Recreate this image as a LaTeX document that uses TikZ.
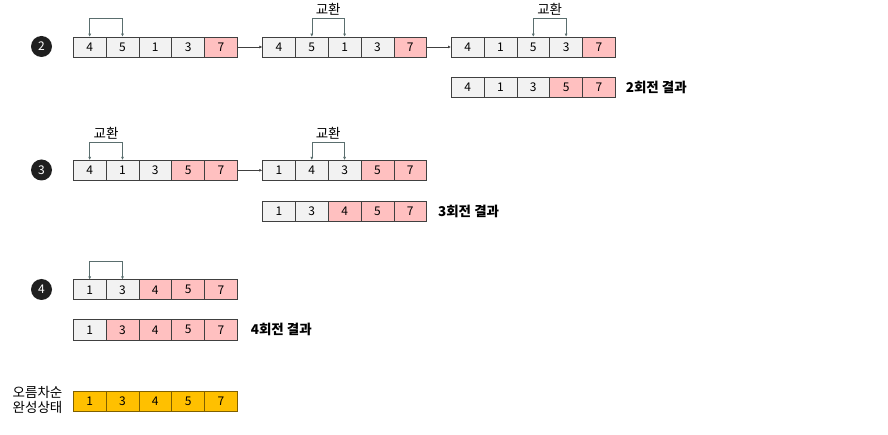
\documentclass[tikz,border=0pt]{standalone}
\usepackage{fontspec}
\setmainfont{Noto Sans CJK KR}
\usetikzlibrary{arrows.meta,calc}
\definecolor{cellgray}{HTML}{F2F2F2}
\definecolor{cellpink}{HTML}{FFC0C0}
\definecolor{cellgold}{HTML}{FFC000}
\definecolor{goldedge}{HTML}{7F6000}
\definecolor{edge}{HTML}{404040}
\definecolor{linkgray}{HTML}{5A6E6E}
\newcommand\cellrow[4]{%
  \foreach \v/\s [count=\i] in {#4} {
    \node[\s] (#1-\i) at ({#2+(\i-1)*32.8}, #3) {\v};
  }%
}
\begin{document}
\begin{tikzpicture}[x=1pt,y=-1pt,
  cg/.style={draw=edge, line width=0.6pt, fill=cellgray, minimum width=32.8pt, minimum height=20pt,
    inner sep=0pt, anchor=north west, font=\fontsize{12}{12}\selectfont},
  cp/.style={cg, fill=cellpink},
  co/.style={cg, fill=cellgold, draw=goldedge},
  swaplink/.style={draw=linkgray, line width=0.6pt, {Latex[length=3pt,width=3pt]}-{Latex[length=3pt,width=3pt]}},
  flow/.style={draw=black!75, line width=0.6pt, -{Latex[length=3pt,width=3pt]}},
  numc/.style={circle, fill=black!88, text=white, minimum size=21pt, inner sep=0pt, font=\fontsize{12}{12}\selectfont},
  swaptxt/.style={font=\fontsize{13.5}{13.5}\selectfont, inner sep=0pt},
  result/.style={font=\fontsize{13.5}{13.5}\selectfont\bfseries, anchor=west, inner sep=0pt}
]
\useasboundingbox (0,0) rectangle (888,435);

% Row 2
\node[numc] (c2) at (41.5,46.5) {2};
\cellrow{a}{73}{36.7}{4/cg,5/cg,1/cg,3/cg,7/cp}
\cellrow{b}{262.3}{36.7}{4/cg,5/cg,1/cg,3/cg,7/cp}
\cellrow{d}{451}{36.7}{4/cg,1/cg,5/cg,3/cg,7/cp}
\cellrow{ar}{451}{77.3}{4/cg,1/cg,3/cg,5/cp,7/cp}
\draw[swaplink] (a-1.north) -- ++(0,-18) -| (a-2.north);
\draw[swaplink] (b-2.north) -- ++(0,-18) -| (b-3.north);
\draw[swaplink] (d-3.north) -- ++(0,-18) -| (d-4.north);
\node[swaptxt] (bt) at ($(b-2.north)!0.5!(b-3.north)+(0,-27)$) {교환};
\node[swaptxt] (dt) at ($(d-3.north)!0.5!(d-4.north)+(0,-27)$) {교환};
\draw[flow] (a-5.east) -- (b-1.west);
\draw[flow] (b-5.east) -- (d-1.west);
\node[result] (r2) at ($(ar-5.east)+(10,0)$) {2회전 결과};

% Row 3
\node[numc] (c3) at (41.5,170) {3};
\cellrow{e}{73}{160}{4/cg,1/cg,3/cg,5/cp,7/cp}
\cellrow{f}{262.3}{160}{1/cg,4/cg,3/cg,5/cp,7/cp}
\cellrow{er}{262.3}{201}{1/cg,3/cg,4/cp,5/cp,7/cp}
\draw[swaplink] (e-1.north) -- ++(0,-18) -| (e-2.north);
\draw[swaplink] (f-2.north) -- ++(0,-18) -| (f-3.north);
\node[swaptxt] (et) at ($(e-1.north)!0.5!(e-2.north)+(0,-27)$) {교환};
\node[swaptxt] (ft) at ($(f-2.north)!0.5!(f-3.north)+(0,-27)$) {교환};
\draw[flow] (e-5.east) -- (f-1.west);
\node[result] (r3) at ($(er-5.east)+(11,0)$) {3회전 결과};

% Row 4
\node[numc] (c4) at (41.5,289.5) {4};
\cellrow{g}{73}{279.5}{1/cg,3/cg,4/cp,5/cp,7/cp}
\cellrow{gr}{73}{319.5}{1/cg,3/cp,4/cp,5/cp,7/cp}
\draw[swaplink] (g-1.north) -- ++(0,-18) -| (g-2.north);
\node[result] (r4) at ($(gr-5.east)+(13,0)$) {4회전 결과};

% Final
\cellrow{h}{73}{391}{1/co,3/co,4/co,5/co,7/co}
\node[font=\fontsize{13.5}{15}\selectfont, align=center, inner sep=0pt] (fin) at (37.5,400) {오름차순\\완성상태};
\end{tikzpicture}
\end{document}
